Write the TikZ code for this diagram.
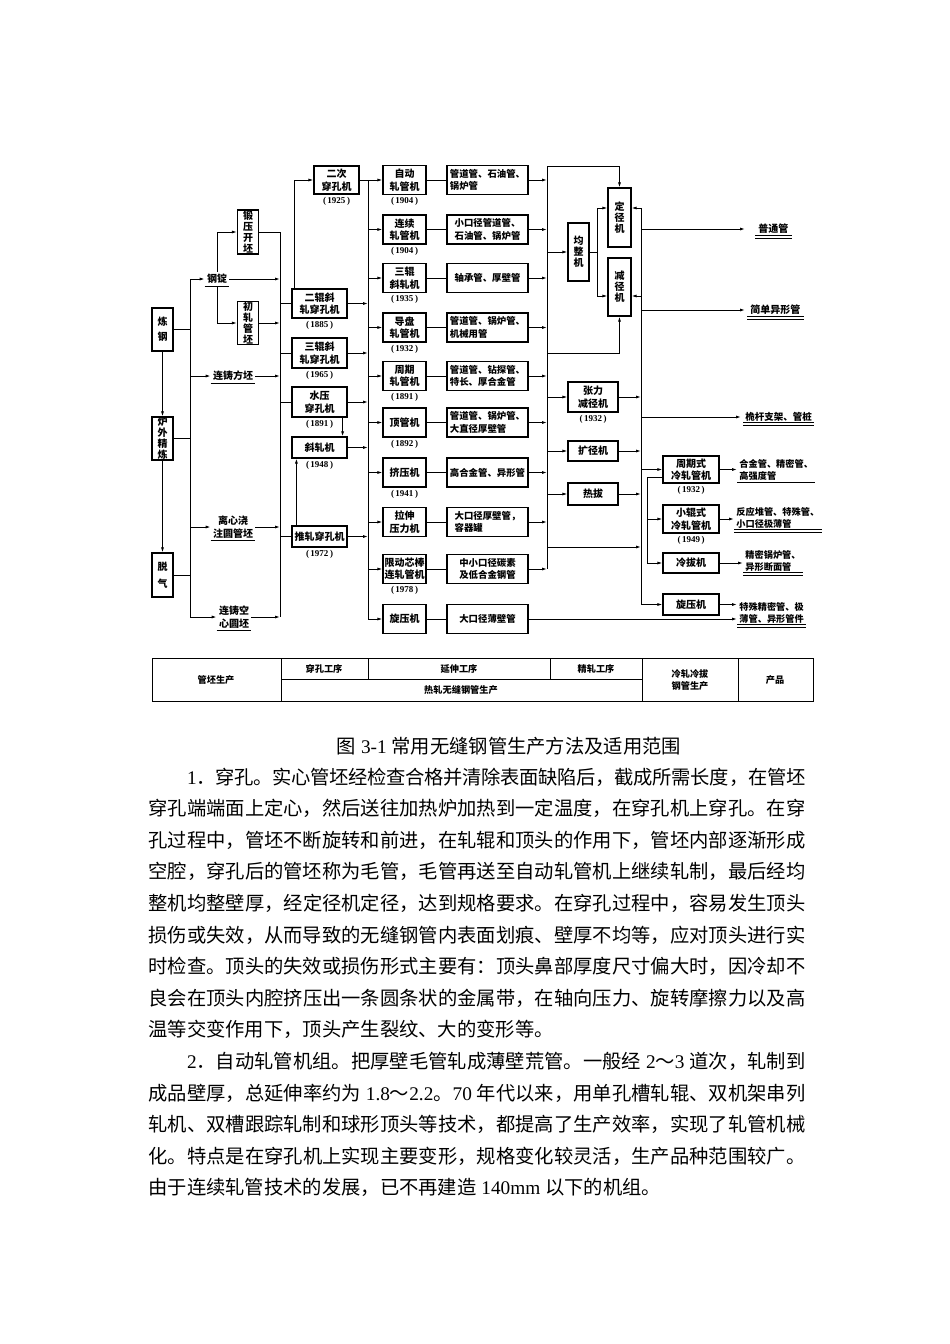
\documentclass[tikz,border=0pt]{standalone}
\usepackage{fontspec}
\setmainfont{Noto Sans CJK SC}
\newfontfamily\lat{Liberation Serif}
\newcommand\ltn[1]{{\lat #1}}
\usetikzlibrary{arrows.meta, positioning}
\XeTeXlinebreaklocale "zh"
\XeTeXlinebreakskip = 0pt plus 2pt minus 0.5pt

\tikzset{
  box/.style={draw, line width=1.2pt, inner sep=0pt, align=center, font=\bfseries\fontsize{10}{12.5}\selectfont},
  vbox/.style={box, minimum width=21pt, font=\bfseries\fontsize{10}{11}\selectfont},
  pbox/.style={box, minimum width=55pt},
  mbox/.style={box, minimum width=43pt, minimum height=29pt},
  prod/.style={box, minimum width=81pt, minimum height=29pt, align=left, font=\bfseries\fontsize{9.4}{12.5}\selectfont},
  cbox/.style={box, minimum width=56pt},
  yr/.style={inner sep=0pt, font=\lat\bfseries\fontsize{9}{9}\selectfont},
  lab/.style={inner sep=2pt, align=center, font=\bfseries\fontsize{10}{12.5}\selectfont},
  olab/.style={inner sep=2pt, align=left, anchor=west, font=\bfseries\fontsize{9.2}{12}\selectfont},
  ul/.style={append after command={(\tikzlastnode.south west) edge[draw, line width=1pt] (\tikzlastnode.south east)}},
  dul/.style={append after command={(\tikzlastnode.south west) edge[draw, double, double distance=2.2pt, line width=0.8pt] (\tikzlastnode.south east)}},
  arr/.style={-{Latex[length=5pt, width=3pt]}},
  para/.style={inner sep=0pt, text width=657pt, align=justify, font=\fontsize{19.3}{31.6}\selectfont}
}

\begin{document}
\begin{tikzpicture}[x=1pt, y=-1pt, line width=0.85pt]
\useasboundingbox (0,0) rectangle (950,1344);

% steelmaking
\node[vbox, minimum height=43pt, font=\bfseries\fontsize{10}{15}\selectfont] (lg) at (162.5,329.5) {炼\\钢};
\node[vbox, minimum height=43pt] (lw) at (162.5,438.5) {炉\\外\\精\\炼};
\node[vbox, minimum height=44pt, font=\bfseries\fontsize{10}{17}\selectfont] (tq) at (162.5,575) {脱\\气};
\draw[arr] (lg) -- (lw);
\draw[arr] (lw) -- (tq);

\coordinate (tt) at (190,279);
\coordinate (tb) at (190,617);
\draw (tt) -- (tb);
\foreach \n in {lg,lw,tq} \draw (\n) -- (tt |- \n);

\node[lab, ul] (gd) at (217,279) {钢锭};
\node[lab, ul] (lf) at (233,376) {连铸方坯};
\node[lab, ul] (lx) at (233,527) {离心浇\\注圆管坯};
\node[lab, ul] (lk) at (234,617) {连铸空\\心圆坯};
\foreach \n in {gd,lf,lx,lk} \draw[arr] (tt |- \n) -- (\n);

\node[vbox, minimum height=44pt] (dy) at (248,232) {锻\\压\\开\\坯};
\node[vbox, minimum height=42pt] (cz) at (248,323) {初\\轧\\管\\坯};
\draw[arr] (gd.north) |- (dy);
\draw[arr] (gd.south) |- (cz);

% piercing
\coordinate (c1t) at (280,232);
\coordinate (c1b) at (280,617);
\draw (dy) -- (c1t) -- (c1b);
\draw[arr] (cz) -- (c1t |- cz);
\foreach \n in {gd,lf,lx,lk} \draw[arr] (\n) -- (c1t |- \n);

\node[box, minimum width=45pt, minimum height=28pt] (ec) at (336.5,180) {二次\\穿孔机};
\node[pbox, minimum height=29pt] (ex) at (319.5,303.5) {二辊斜\\轧穿孔机};
\node[pbox, minimum height=30pt] (sx) at (319.5,353) {三辊斜\\轧穿孔机};
\node[pbox, minimum height=30pt] (sy) at (319.5,402) {水压\\穿孔机};
\node[pbox, minimum height=21pt] (xz) at (319.5,447.5) {斜轧机};
\node[pbox, minimum height=21pt] (tz) at (319.5,536.5) {推轧穿孔机};
\node[yr, below=2pt of ec] (yec) {(\,1925\,)};
\node[yr, below=2pt of ex] (yex) {(\,1885\,)};
\node[yr, below=2pt of sx] (ysx) {(\,1965\,)};
\node[yr, below=2pt of sy] (ysy) {(\,1891\,)};
\node[yr, below=2pt of xz] (yxz) {(\,1948\,)};
\node[yr, below=2pt of tz] (ytz) {(\,1972\,)};

\foreach \n in {ex,sx,sy,tz} \draw (c1t |- \n) -- (\n);
\draw[arr] ([xshift=3pt]ex.north west) |- (ec);
\draw[arr] ([xshift=-5pt]sy.south east) -- ([xshift=-5pt]xz.north east);
\draw[arr] ([xshift=5pt]tz.north west) -- ([xshift=5pt]xz.south west);

% elongation
\coordinate (c2t) at (368,180);
\coordinate (c2b) at (368,619);
\draw (ec) -- (c2t) -- (c2b);
\foreach \n in {ex,sx,sy,xz,tz} \draw[arr] (\n) -- (c2t |- \n);

\coordinate (c3t) at (547,166);
\coordinate (c3b) at (547,569);
\draw (c3t) -- (c3b);

\foreach \i/\y/\m/\p in {
  1/180/{自动\\轧管机}/{管道管、石油管、\\锅炉管},
  2/229.5/{连续\\轧管机}/{小口径管道管、\\石油管、锅炉管},
  3/278/{三辊\\斜轧机}/{轴承管、厚壁管},
  4/327.5/{导盘\\轧管机}/{管道管、锅炉管、\\机械用管},
  5/376/{周期\\轧管机}/{管道管、钻探管、\\特长、厚合金管},
  6/422.5/{顶管机}/{管道管、锅炉管、\\大直径厚壁管},
  7/472.5/{挤压机}/{高合金管、异形管},
  8/522/{拉伸\\压力机}/{大口径厚壁管，\\容器罐},
  9/569/{限动芯棒\\连轧管机}/{中小口径碳素\\及低合金钢管},
  10/619/{旋压机}/{大口径薄壁管}}
{
  \node[mbox] (m\i) at (404.5,\y) {\m};
  \node[prod] (p\i) at (487.5,\y) {\p};
  \draw (m\i) -- (p\i);
  \draw[arr] (c2t |- m\i) -- (m\i);
}
\foreach \i/\t in {1/1904,2/1904,3/1935,4/1932,5/1891,6/1892,7/1941,9/1978}
  \node[yr, below=2pt of m\i] (ym\i) {(\,\t\,)};
\foreach \i in {1,...,9} \draw[arr] (p\i) -- (c3t |- p\i);

% sizing
\node[vbox, minimum height=58pt] (jz) at (578.5,252) {均\\整\\机};
\node[vbox, minimum width=23pt, minimum height=59pt] (dj) at (619.5,217.5) {定\\径\\机};
\node[vbox, minimum width=23pt, minimum height=58pt] (jj) at (619.5,287) {减\\径\\机};
\coordinate (fj) at (597,252);
\coordinate (c3m) at (547,353);
\draw[arr] (c3t |- jz) -- (jz);
\draw (jz) -- (fj);
\draw[arr] (fj) |- ([yshift=9.5pt]dj.west);
\draw[arr] (fj) |- ([yshift=-9pt]jj.west);
\draw[arr] (c3t) -| (dj.north);
\draw[arr] (c3m) -| (jj.south);

\coordinate (c4t) at (641,208);
\coordinate (c4b) at (641,604.5);
\draw (c4t) -- (c4b);
\draw[arr] (c4t) -- (c4t -| dj.east);
\draw[arr] ([yshift=-9pt]jj.east -| c4t) -- ([yshift=-9pt]jj.east);

\node[box, minimum width=50pt, minimum height=30pt] (zl) at (593,397) {张力\\减径机};
\node[yr, below=2pt of zl] (yzl) {(\,1932\,)};
\node[box, minimum width=50pt, minimum height=20pt] (kj) at (593,451) {扩径机};
\node[box, minimum width=50pt, minimum height=22pt] (rb) at (593,494) {热拔};
\foreach \n in {zl,kj,rb} {
  \draw[arr] (c3t |- \n) -- (\n);
  \draw[arr] (\n) -- (c4t |- \n);
}
\coordinate (rj) at (547,547);
\draw[arr] (rj) -- (rj -| c4t);

\node[lab, dul, anchor=west, inner sep=3pt] (pt) at (755,229) {普通管};
\node[lab, dul, anchor=west, inner sep=3pt] (jd) at (747,310) {简单异形管};
\node[lab, dul, anchor=west, inner sep=2pt, font=\bfseries\fontsize{9.5}{12}\selectfont] (wg) at (743,417) {桅杆支架、管桩};
\draw[arr] (c4t |- pt) -- ([xshift=-10pt]pt.west);
\draw[arr] (c4t |- jd) -- ([xshift=-2pt]jd.west);
\draw[arr] (c4t |- wg) -- ([xshift=-2pt]wg.west);

% cold rolling and drawing
\node[cbox, minimum height=27pt] (zq) at (691,469.5) {周期式\\冷轧管机};
\node[cbox, minimum height=28pt] (xg) at (691,519) {小辊式\\冷轧管机};
\node[cbox, minimum height=20pt] (lb) at (691,563) {冷拔机};
\node[cbox, minimum height=21pt] (xy) at (691,604.5) {旋压机};
\node[yr, below=2pt of zq] (yzq) {(\,1932\,)};
\node[yr, below=2pt of xg] (yxg) {(\,1949\,)};
\coordinate (c5b) at (647,563);
\draw[arr] (c4t |- zq) -- (zq);
\draw[arr] (c4b) -- (xy);
\draw ([yshift=-7.5pt]zq.west) -| (c5b);
\draw[arr] (c5b |- xg) -- (xg);
\draw[arr] (c5b) -- (lb);

\node[olab, ul] (o1) at (737,470) {合金管、精密管、\\高强度管};
\node[olab, dul] (o2) at (734,518) {反应堆管、特殊管、\\小口径极薄管};
\node[olab, dul] (o3) at (743,561) {精密锅炉管、\\异形断面管};
\node[olab, dul] (o4) at (737,613) {特殊精密管、极\\薄管、异形管件};
\draw[arr] (zq) -- (zq -| o1.west);
\draw[arr] (xg) -- (xg -| o2.west);
\draw[arr] (lb) -- (lb -| o3.west);
\draw[arr] (xy) -- (xy -| o4.west);
\draw[arr] (p10) -- (p10 -| o4.west);

% stage table
\draw (152,658) rectangle (813,701);
\draw (281,658) -- (281,701) (642,658) -- (642,701) (738,658) -- (738,701);
\draw (281,679) -- (642,679) (368,658) -- (368,679) (550,658) -- (550,679);
\begin{scope}[every node/.style={font=\bfseries\fontsize{9.2}{12}\selectfont, align=center}]
\node (tg) at (216,680) {管坯生产};
\node (tc) at (324,668.5) {穿孔工序};
\node (ty) at (459,668.5) {延伸工序};
\node (tj) at (596,668.5) {精轧工序};
\node (tr) at (461,690) {热轧无缝钢管生产};
\node (tl) at (690,680) {冷轧冷拔\\钢管生产};
\node (tp) at (775,680) {产品};
\end{scope}

% caption and text
\node[font=\fontsize{19.3}{24}\selectfont] (cap) at (509,746) {图\ltn{ 3-1 }常用无缝钢管生产方法及适用范围};
\node[para, anchor=base west] (body) at (148,784) {%
\hspace*{38.6pt}\ltn{1}．穿孔。实心管坯经检查合格并清除表面缺陷后，截成所需长度，在管坯\linebreak
穿孔端端面上定心，然后送往加热炉加热到一定温度，在穿孔机上穿孔。在穿\linebreak
孔过程中，管坯不断旋转和前进，在轧辊和顶头的作用下，管坯内部逐渐形成\linebreak
空腔，穿孔后的管坯称为毛管，毛管再送至自动轧管机上继续轧制，最后经均\linebreak
整机均整壁厚，经定径机定径，达到规格要求。在穿孔过程中，容易发生顶头\linebreak
损伤或失效，从而导致的无缝钢管内表面划痕、壁厚不均等，应对顶头进行实\linebreak
时检查。顶头的失效或损伤形式主要有：顶头鼻部厚度尺寸偏大时，因冷却不\linebreak
良会在顶头内腔挤压出一条圆条状的金属带，在轴向压力、旋转摩擦力以及高\linebreak
温等交变作用下，顶头产生裂纹、大的变形等。\par
\hspace*{38.6pt}\ltn{2}．自动轧管机组。把厚壁毛管轧成薄壁荒管。一般经\ltn{ 2}～\ltn{3 }道次，轧制到\linebreak
成品壁厚，总延伸率约为\ltn{ 1.8}～\ltn{2.2}。\ltn{70 }年代以来，用单孔槽轧辊、双机架串列\linebreak
轧机、双槽跟踪轧制和球形顶头等技术，都提高了生产效率，实现了轧管机械\linebreak
化。特点是在穿孔机上实现主要变形，规格变化较灵活，生产品种范围较广。\linebreak
由于连续轧管技术的发展，已不再建造\ltn{ 140mm }以下的机组。};
\end{tikzpicture}
\end{document}
